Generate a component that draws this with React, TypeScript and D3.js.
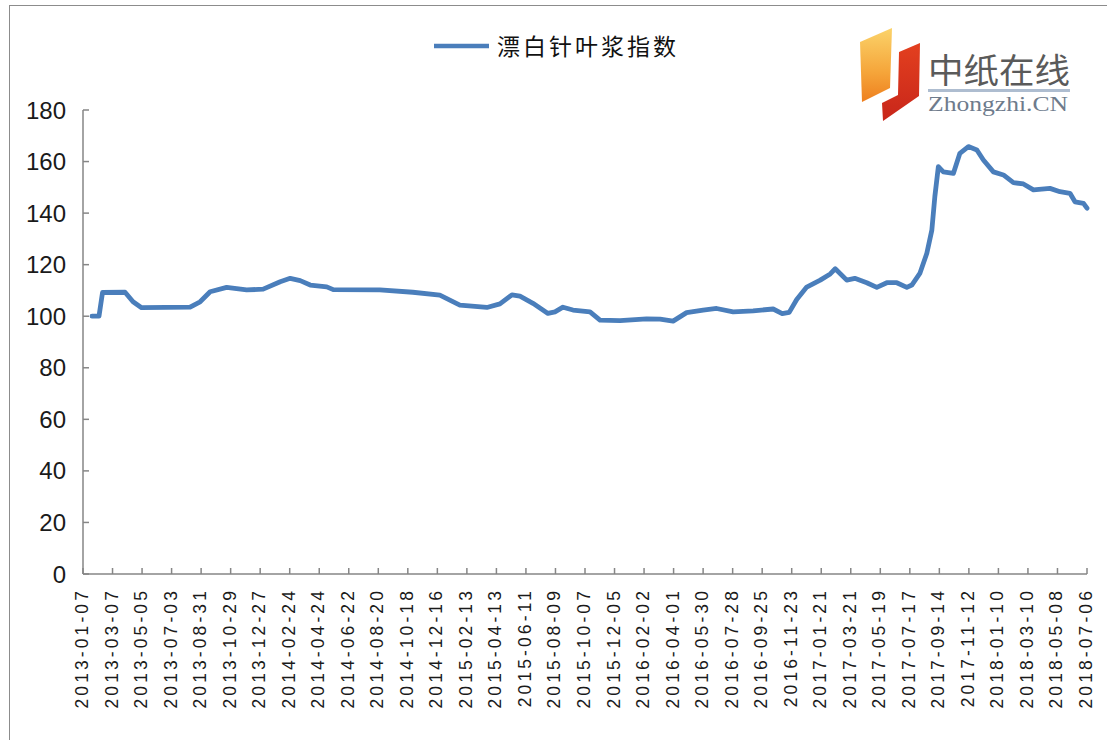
import React from "react";
import * as d3 from "d3";

const seriesName = "漂白针叶浆指数";

const dates: string[] = [
  "2013-01-25", "2013-02-08", "2013-02-15", "2013-04-01", "2013-04-17", "2013-05-04",
  "2013-08-09", "2013-08-29", "2013-09-18", "2013-10-21", "2013-11-30", "2014-01-02",
  "2014-02-05", "2014-02-25", "2014-03-17", "2014-04-06", "2014-05-09", "2014-05-22",
  "2014-08-23", "2014-10-28", "2014-12-21", "2015-01-30", "2015-03-25", "2015-04-20",
  "2015-05-14", "2015-05-30", "2015-06-25", "2015-07-25", "2015-08-08", "2015-08-24",
  "2015-09-13", "2015-10-17", "2015-11-06", "2015-12-16", "2016-02-07", "2016-03-05",
  "2016-03-31", "2016-04-27", "2016-05-30", "2016-06-26", "2016-07-29", "2016-09-07",
  "2016-10-17", "2016-11-04", "2016-11-18", "2016-12-03", "2016-12-23", "2017-01-19",
  "2017-02-08", "2017-02-18", "2017-03-13", "2017-03-29", "2017-04-22", "2017-05-12",
  "2017-06-01", "2017-06-21", "2017-07-11", "2017-07-21", "2017-08-06", "2017-08-20",
  "2017-08-30", "2017-09-05", "2017-09-12", "2017-09-22", "2017-10-12", "2017-10-25",
  "2017-11-11", "2017-11-28", "2017-12-11", "2017-12-31", "2018-01-20", "2018-02-09",
  "2018-03-01", "2018-03-21", "2018-04-23", "2018-05-13", "2018-06-02", "2018-06-12",
  "2018-06-29", "2018-07-06",
];

const values: number[] = [
  100, 100, 109.2, 109.3, 105.6, 103.3,
  103.5, 105.6, 109.5, 111.2, 110.2, 110.5,
  113.4, 114.7, 113.8, 112.1, 111.4, 110.3,
  110.2, 109.3, 108.2, 104.3, 103.4, 104.8,
  108.3, 107.8, 105, 101.1, 101.7, 103.5,
  102.4, 101.7, 98.5, 98.3, 99.0, 98.9,
  98.1, 101.4, 102.4, 103.0, 101.7, 102.1,
  102.8, 101.0, 101.5, 106.5, 111.3, 114,
  116.4, 118.4, 114, 114.7, 113, 111.2,
  113, 113, 111.2, 112.1, 116.6, 124.4,
  133.4, 146.4, 158, 156, 155.4, 163.2,
  165.8, 164.5, 160.6, 156, 154.8, 151.8,
  151.3, 149, 149.6, 148.3, 147.7, 144.4,
  143.8, 141.9,
];

const xTickLabels: string[] = [
  "2013-01-07", "2013-03-07", "2013-05-05", "2013-07-03", "2013-08-31", "2013-10-29",
  "2013-12-27", "2014-02-24", "2014-04-24", "2014-06-22", "2014-08-20", "2014-10-18",
  "2014-12-16", "2015-02-13", "2015-04-13", "2015-06-11", "2015-08-09", "2015-10-07",
  "2015-12-05", "2016-02-02", "2016-04-01", "2016-05-30", "2016-07-28", "2016-09-25",
  "2016-11-23", "2017-01-21", "2017-03-21", "2017-05-19", "2017-07-17", "2017-09-14",
  "2017-11-12", "2018-01-10", "2018-03-10", "2018-05-08", "2018-07-06",
];

const yTicks: number[] = [0, 20, 40, 60, 80, 100, 120, 140, 160, 180];

const parse = d3.utcParse("%Y-%m-%d");

export default function App() {
  const W = 1107;
  const H = 740;
  const x = d3
    .scaleUtc()
    .domain([parse(xTickLabels[0])!, parse(xTickLabels[xTickLabels.length - 1])!])
    .range([83, 1087]);
  const y = d3.scaleLinear().domain([0, 180]).range([574, 110]);

  const pts = dates.map((d, i) => ({ d: parse(d)!, v: values[i] }));
  const line = d3
    .line<{ d: Date; v: number }>()
    .x((p) => x(p.d))
    .y((p) => y(p.v))
    .curve(d3.curveLinear);

  const blue = "#4a7ebb";
  const axisColor = "#868686";
  const x0 = 83;
  const x1 = 1087;
  const yBase = 574;

  return (
    <svg
      width={W}
      height={H}
      style={{ position: "absolute", left: 0, top: 0, background: "#fff" }}
      fontFamily="'Liberation Sans', Arial, sans-serif"
    >
      <defs>
        <linearGradient id="og" x1="0" y1="0" x2="0" y2="1">
          <stop offset="0" stopColor="#fbd36a" />
          <stop offset="0.6" stopColor="#f5a53a" />
          <stop offset="1" stopColor="#ee7f1e" />
        </linearGradient>
        <linearGradient id="rg" x1="0" y1="0" x2="0" y2="1">
          <stop offset="0" stopColor="#e3401f" />
          <stop offset="1" stopColor="#c8261a" />
        </linearGradient>
      </defs>
      <rect x={9.5} y={5.5} width={1110} height={760} fill="#fff" stroke="#8c8c8c" strokeWidth={1} />

      {/* Legend */}
      <line x1={434} x2={489} y1={46} y2={46} stroke={blue} strokeWidth={4.5} />
      <text
        x={497}
        y={55}
        fontSize={23}
        letterSpacing={3}
        fill="#111"
        fontFamily="'Noto Sans CJK SC', sans-serif"
      >
        {seriesName}
      </text>

      {/* Logo */}
      <g>
        <polygon points="860,42 892,28 890,88 862,102" fill="url(#og)" />
        <polygon points="899,52 920,43 919,96 883,121 882,103 898,95" fill="url(#rg)" />
        <text
          x={928}
          y={83}
          fontSize={34}
          fill="#5a5a5a"
          fontFamily="'Noto Sans CJK SC', serif"
          textLength={142}
          lengthAdjust="spacingAndGlyphs"
        >
          中纸在线
        </text>
        <rect x={928} y={89} width={142} height={3} fill="#aebdd0" />
        <text
          x={928}
          y={111}
          fontSize={22}
          fill="#6e7b8c"
          fontFamily="'Liberation Serif', serif"
          textLength={140}
          lengthAdjust="spacingAndGlyphs"
        >
          Zhongzhi.CN
        </text>
      </g>

      {/* Y axis */}
      <line x1={x0} x2={x0} y1={y(180)} y2={yBase} stroke={axisColor} strokeWidth={1.5} />
      {yTicks.map((t) => (
        <g key={t}>
          <line x1={x0} x2={x0 + 6} y1={y(t)} y2={y(t)} stroke={axisColor} strokeWidth={1.5} />
          <text x={66} y={y(t) + 8.5} fontSize={24} textAnchor="end" fill="#1a1a1a">
            {t}
          </text>
        </g>
      ))}

      {/* X axis */}
      <line x1={x0} x2={x1} y1={yBase} y2={yBase} stroke={axisColor} strokeWidth={1.5} />
      {xTickLabels.map((s) => {
        const px = x(parse(s)!);
        return (
          <g key={s}>
            <line x1={px} x2={px} y1={yBase} y2={yBase - 6} stroke={axisColor} strokeWidth={1.5} />
            <text
              transform={`translate(${px + 5},${yBase + 14}) rotate(-90)`}
              fontSize={17.5}
              letterSpacing={3.1}
              textAnchor="end"
              fill="#1a1a1a"
            >
              {s}
            </text>
          </g>
        );
      })}

      {/* Series */}
      <path
        d={line(pts) || ""}
        fill="none"
        stroke={blue}
        strokeWidth={4.8}
        strokeLinejoin="round"
        strokeLinecap="round"
      />
    </svg>
  );
}
